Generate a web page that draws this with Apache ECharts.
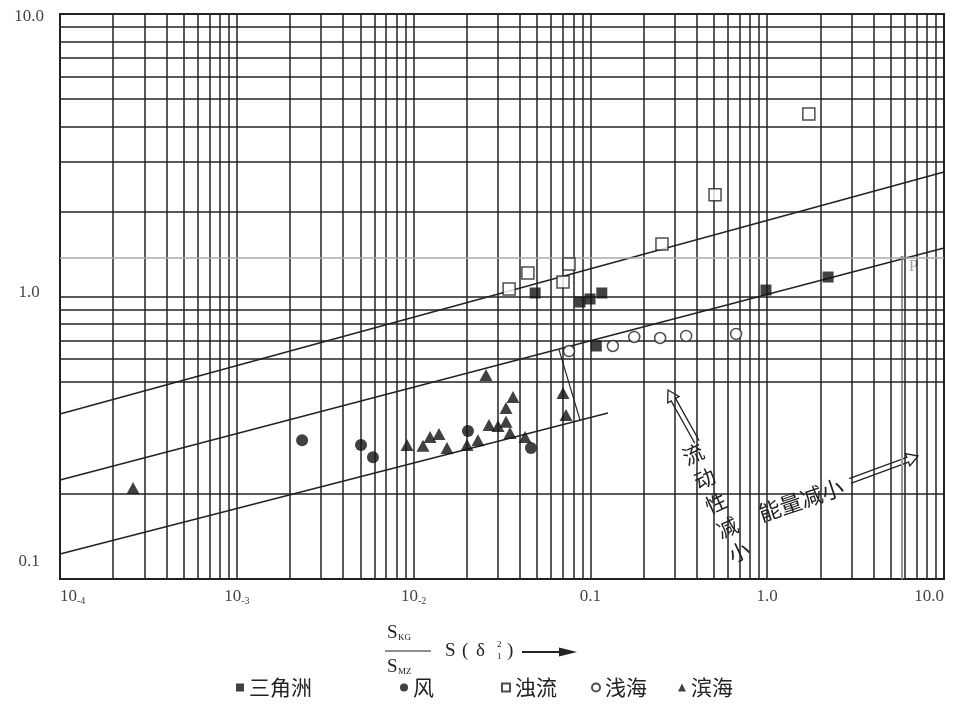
<!DOCTYPE html>
<html>
<head>
<meta charset="utf-8">
<script src="https://cdn.jsdelivr.net/npm/echarts@6/dist/echarts.min.js"></script>
<style>
  html, body { margin: 0; padding: 0; background: #fff; }
  #chart { width: 953px; height: 710px; }
</style>
</head>
<body>
<div id="chart"></div>
<script>
// 数据 (x, y) 读自原图
var deltaData = [[0.0487, 1.029], [0.0873, 0.956], [0.0995, 0.980], [0.116, 1.029], [0.108, 0.668], [0.984, 1.054], [2.21, 1.172]];
var windData = [[0.00234, 0.310], [0.00504, 0.298], [0.00589, 0.270], [0.0203, 0.334], [0.0461, 0.291]];
var turbData = [[0.0347, 1.064], [0.0443, 1.211], [0.0700, 1.125], [0.0757, 1.303], [0.254, 1.534], [0.507, 2.29], [1.72, 4.43]];
var shelfData = [[0.0757, 0.641], [0.134, 0.668], [0.177, 0.719], [0.248, 0.713], [0.348, 0.725], [0.667, 0.737]];
var beachData = [[0.000259, 0.210], [0.00918, 0.298], [0.0113, 0.296], [0.01239, 0.318], [0.01392, 0.326], [0.01545, 0.291],
    [0.02004, 0.298], [0.02312, 0.310], [0.02567, 0.527], [0.0267, 0.351], [0.03003, 0.348], [0.03332, 0.360],
    [0.03332, 0.403], [0.0365, 0.441], [0.0351, 0.329], [0.0427, 0.318], [0.0700, 0.455], [0.0728, 0.381]];

var upperLine = [[1e-4, 0.384], [10, 2.76]];
var middleLine = [[1e-4, 0.224], [10, 1.486]];
var lowerLine = [[1e-4, 0.1226], [0.1257, 0.387]];
var connector = [[0.0665, 0.647], [0.0873, 0.366]];
var pPoint = [[5.79, 1.369]];
var pDrop = [[5.79, 1.369], [5.79, 0.1]];
var refLevel = 1.369;

// 网格线
var decades = [1e-4, 1e-3, 1e-2, 0.1, 1];
var mants = [1, 2, 3, 4, 5, 6, 7, 8, 9];
var xGrid = [];
decades.forEach(function (d) { mants.forEach(function (m) { xGrid.push(m * d); }); });
xGrid = xGrid.slice(1);
var yGrid = [0.2, 0.5, 0.6, 0.7, 0.8, 0.9, 1, 2, 3, 4, 5, 6, 7, 8, 9];

var serif = 'Liberation Serif';
var cjk = 'Noto Sans CJK SC';
var ink = '#222';

function arrowPts(tail, tip) {
    var dx = tip[0] - tail[0], dy = tip[1] - tail[1];
    var len = Math.sqrt(dx * dx + dy * dy);
    var ux = dx / len, uy = dy / len, nx = -uy, ny = ux;
    var hx = tip[0] - ux * 11, hy = tip[1] - uy * 11;
    var w = 2.5, hw = 6.5;
    return [
        [tail[0] + nx * w, tail[1] + ny * w],
        [hx + nx * w, hy + ny * w],
        [hx + nx * hw, hy + ny * hw],
        tip,
        [hx - nx * hw, hy - ny * hw],
        [hx - nx * w, hy - ny * w],
        [tail[0] - nx * w, tail[1] - ny * w]
    ];
}

function mkLegend(name, left) {
    return {
        data: [name], left: left, top: 672, itemWidth: 8, itemHeight: 8,
        selectedMode: false,
        textStyle: { fontFamily: cjk, fontSize: 21, color: ink, padding: [12, 0, 0, 0] }
    };
}

var lineStyle = { color: ink, width: 1.5 };
var gridLineStyle = { color: ink, width: 1.5, type: 'solid' };

var option = {
    backgroundColor: '#fff',
    animation: false,
    grid: { left: 60, right: 9, top: 14, bottom: 131, show: true, borderColor: ink, borderWidth: 2 },
    legend: [
        mkLegend('三角洲', 231),
        mkLegend('风', 395),
        mkLegend('浊流', 496),
        mkLegend('浅海', 586),
        mkLegend('滨海', 673)
    ],
    xAxis: {
        type: 'log', logBase: 10, min: 1e-4, max: 10,
        axisLine: { show: false }, axisTick: { show: false }, splitLine: { show: false },
        axisLabel: {
            margin: 9, fontFamily: serif, fontSize: 17, color: '#444',
            alignMinLabel: 'left', alignMaxLabel: 'right',
            formatter: function (v) {
                var e = Math.round(Math.log10(v));
                if (e <= -2) return '10{s|' + e + '}';
                if (e === -1) return '0.1';
                if (e === 0) return '1.0';
                return '10.0';
            },
            rich: { s: { fontFamily: serif, fontSize: 10, color: '#444', padding: [8, 0, 0, 0] } }
        }
    },
    yAxis: {
        type: 'log', logBase: 10, min: 0.1, max: 10,
        axisLine: { show: false }, axisTick: { show: false }, splitLine: { show: false },
        axisLabel: {
            margin: 31, align: 'center',
            formatter: function (v) {
                var e = Math.round(Math.log10(v));
                if (e === 1) return '{t|10.0}';
                if (e === 0) return '{m|1.0}';
                return '{b|0.1}';
            },
            rich: {
                t: { fontFamily: serif, fontSize: 17, color: '#444', padding: [6, 0, 0, 0] },
                m: { fontFamily: serif, fontSize: 17, color: '#444', padding: [0, 0, 8, 0] },
                b: { fontFamily: serif, fontSize: 17, color: '#444', padding: [0, 0, 34, 0] }
            }
        }
    },
    graphic: [
        { type: 'text', x: 716, y: 503, rotation: 25 * Math.PI / 180,
          style: { text: '流\n动\n性\n减\n小', fontFamily: cjk, fontSize: 21, lineHeight: 27, fill: ink, align: 'center', verticalAlign: 'middle' } },
        { type: 'text', x: 801, y: 500, rotation: 18.7 * Math.PI / 180,
          style: { text: '能量减小', fontFamily: cjk, fontSize: 22, fill: ink, align: 'center', verticalAlign: 'middle' } },
        { type: 'polyline', shape: { points: arrowPts([697, 442], [668, 390]) }, style: { stroke: ink, lineWidth: 1.3, fill: null } },
        { type: 'polyline', shape: { points: arrowPts([850, 481], [918, 456]) }, style: { stroke: ink, lineWidth: 1.3, fill: null } },
        // 横轴名称
        { type: 'text', x: 387, y: 633, style: { text: 'S', fontFamily: serif, fontSize: 19, fill: ink, verticalAlign: 'middle' } },
        { type: 'text', x: 398, y: 638, style: { text: 'KG', fontFamily: serif, fontSize: 9, fill: ink, verticalAlign: 'middle' } },
        { type: 'line', shape: { x1: 385, y1: 651, x2: 431, y2: 651 }, style: { stroke: ink, lineWidth: 1.2 } },
        { type: 'text', x: 387, y: 667, style: { text: 'S', fontFamily: serif, fontSize: 19, fill: ink, verticalAlign: 'middle' } },
        { type: 'text', x: 398, y: 672, style: { text: 'MZ', fontFamily: serif, fontSize: 9, fill: ink, verticalAlign: 'middle' } },
        { type: 'text', x: 445, y: 651, style: { text: 'S', fontFamily: serif, fontSize: 19, fill: ink, verticalAlign: 'middle' } },
        { type: 'text', x: 462, y: 651, style: { text: '(', fontFamily: serif, fontSize: 19, fill: ink, verticalAlign: 'middle' } },
        { type: 'text', x: 476, y: 651, style: { text: 'δ', fontFamily: serif, fontSize: 19, fill: ink, verticalAlign: 'middle' } },
        { type: 'text', x: 497, y: 645, style: { text: '2', fontFamily: serif, fontSize: 9, fill: ink, verticalAlign: 'middle' } },
        { type: 'text', x: 497, y: 657, style: { text: '1', fontFamily: serif, fontSize: 9, fill: ink, verticalAlign: 'middle' } },
        { type: 'text', x: 507, y: 651, style: { text: ')', fontFamily: serif, fontSize: 19, fill: ink, verticalAlign: 'middle' } },
        { type: 'line', shape: { x1: 522, y1: 652, x2: 565, y2: 652 }, style: { stroke: ink, lineWidth: 2 } },
        { type: 'polygon', shape: { points: [[559, 647.5], [577, 652], [559, 656.5]] }, style: { fill: ink } }
    ],
    series: [
        {
            type: 'line', data: upperLine, symbol: 'none', lineStyle: lineStyle, silent: true, z: 2,
            markLine: {
                silent: true, symbol: 'none', label: { show: false }, lineStyle: gridLineStyle, animation: false,
                precision: 10,
                data: xGrid.map(function (v) { return { xAxis: v }; }).concat(yGrid.map(function (v) { return { yAxis: v }; }))
            }
        },
        {
            type: 'line', data: middleLine, symbol: 'none', lineStyle: lineStyle, silent: true, z: 2,
            markLine: {
                silent: true, symbol: 'none', label: { show: false }, animation: false, precision: 10,
                lineStyle: { color: '#aaa', width: 1.5, type: 'solid' },
                data: [{ yAxis: refLevel }]
            }
        },
        { type: 'line', data: lowerLine, symbol: 'none', lineStyle: lineStyle, silent: true, z: 2 },
        { type: 'line', data: connector, symbol: 'none', lineStyle: { color: ink, width: 1.2 }, silent: true, z: 2 },
        { type: 'line', data: pDrop, symbol: 'none', lineStyle: { color: '#999', width: 2 }, silent: true, z: 2 },
        {
            type: 'scatter', data: pPoint, symbol: 'circle', symbolSize: 4, itemStyle: { color: '#555' }, z: 4,
            label: { show: true, formatter: 'P', position: 'right', offset: [0, 9], fontFamily: serif, fontSize: 16, color: '#888' }
        },
        { name: '三角洲', type: 'scatter', data: deltaData, symbol: 'rect', symbolSize: 11, itemStyle: { color: '#111' }, z: 5 },
        { name: '风', type: 'scatter', data: windData, symbol: 'circle', symbolSize: 12, itemStyle: { color: '#111' }, z: 5 },
        { name: '浊流', type: 'scatter', data: turbData, symbol: 'rect', symbolSize: 12,
          itemStyle: { color: '#fff', borderColor: ink, borderWidth: 1.5 }, z: 5 },
        { name: '浅海', type: 'scatter', data: shelfData, symbol: 'circle', symbolSize: 11,
          itemStyle: { color: '#fff', borderColor: ink, borderWidth: 1.5 }, z: 5 },
        { name: '滨海', type: 'scatter', data: beachData, symbol: 'triangle', symbolSize: [13, 12], itemStyle: { color: '#111' }, z: 5 }
    ]
};

var myChart = echarts.init(document.getElementById('chart'));
myChart.setOption(option);
window.onresize = myChart.resize;
</script>
</body>
</html>
